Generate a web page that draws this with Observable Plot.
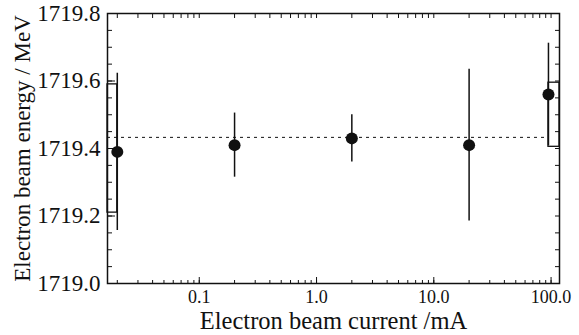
<!DOCTYPE html>
<html><head><meta charset="utf-8">
<script src="https://cdn.jsdelivr.net/npm/d3@7"></script>
<script src="https://cdn.jsdelivr.net/npm/@observablehq/plot@0.6"></script>
<style>
body{margin:0;background:#fff}
svg, svg text{font-family:"Liberation Serif","DejaVu Serif",serif !important}
</style>
</head><body><div id="chart"></div>
<script>
const currents = [0.02, 0.2, 2, 20, 95];
const energies = [1719.39, 1719.41, 1719.43, 1719.41, 1719.56];
const errors = [0.233, 0.095, 0.07, 0.225, 0.152];
const meanEnergy = 1719.433;
const boxCurrentFrom = [0.0165, 95];
const boxCurrentTo = [0.02, 118];
const boxLow = [1719.21, 1719.405];
const boxHigh = [1719.59, 1719.595];
const xMajorTicks = [0.1, 1, 10, 100];
const xTickLabels = ["0.1", "1.0", "10.0", "100.0"];
const yMajorTicks = [1719.0, 1719.2, 1719.4, 1719.6, 1719.8];
const yMinorStep = 0.05;
const xDomain = [0.0165, 118];
const yDomain = [1719.0, 1719.8];

const yMinorTicks = d3.range(0, 17).map(i => yDomain[0] + i * yMinorStep);
const xMinorTicks = [];
for (const dec of [0.01, 0.1, 1, 10, 100]) for (let m = 1; m <= 9; m++) {
  const v = dec * m;
  if (v >= xDomain[0] && v <= xDomain[1]) xMinorTicks.push(v);
}
const xLabelOf = new Map(xMajorTicks.map((v, i) => [v, xTickLabels[i]]));
const points = currents.map((c, i) => ({c, e: energies[i], lo: energies[i] - errors[i], hi: energies[i] + errors[i]}));
const boxes = boxLow.map((l, i) => ({x1: boxCurrentFrom[i], x2: boxCurrentTo[i], y1: l, y2: boxHigh[i]}));

const chart = Plot.plot({
  width: 579, height: 335,
  marginLeft: 107, marginRight: 20, marginTop: 13, marginBottom: 52,
  style: {fontSize: "20px", color: "#111", background: "#fff"},
  x: {type: "log", domain: xDomain},
  y: {domain: yDomain},
  marks: [
    Plot.axisY(yMajorTicks, {anchor: "left", tickSize: -8, tickPadding: 15, tickFormat: d => d.toFixed(1),
      label: "Electron beam energy / MeV", labelArrow: "none", labelAnchor: "center", labelOffset: 94, fontSize: 23}),
    Plot.axisY(yMinorTicks, {anchor: "left", tickSize: -5, text: null, label: null}),
    Plot.axisY(yMinorTicks, {anchor: "right", tickSize: -5, text: null, label: null}),
    Plot.axisX(xMajorTicks, {anchor: "bottom", tickSize: -6, tickPadding: 13,
      tickFormat: d => xLabelOf.get(d) ?? d.toFixed(1), fontSize: 18, label: null}),
    Plot.axisX({anchor: "bottom", ticks: [], label: "Electron beam current /mA", labelArrow: "none",
      labelAnchor: "center", labelOffset: 45, fontSize: 24.5}),
    Plot.axisX(xMinorTicks, {anchor: "bottom", tickSize: -3, text: null, label: null}),
    Plot.axisX(xMinorTicks, {anchor: "top", tickSize: -4, text: null, label: null}),
    Plot.frame({strokeWidth: 1.5}),
    Plot.ruleY([meanEnergy], {x1: xDomain[0], x2: currents[4], strokeDasharray: "3,4", strokeWidth: 1}),
    Plot.rect(boxes, {x1: "x1", x2: "x2", y1: "y1", y2: "y2", fill: "none", stroke: "#111", strokeWidth: 1.3}),
    Plot.ruleX(points, {x: "c", y1: "lo", y2: "hi", strokeWidth: 1.5}),
    Plot.dot(points, {x: "c", y: "e", r: 6, fill: "#111"})
  ]
});
document.getElementById("chart").appendChild(chart);
</script>
</body></html>
